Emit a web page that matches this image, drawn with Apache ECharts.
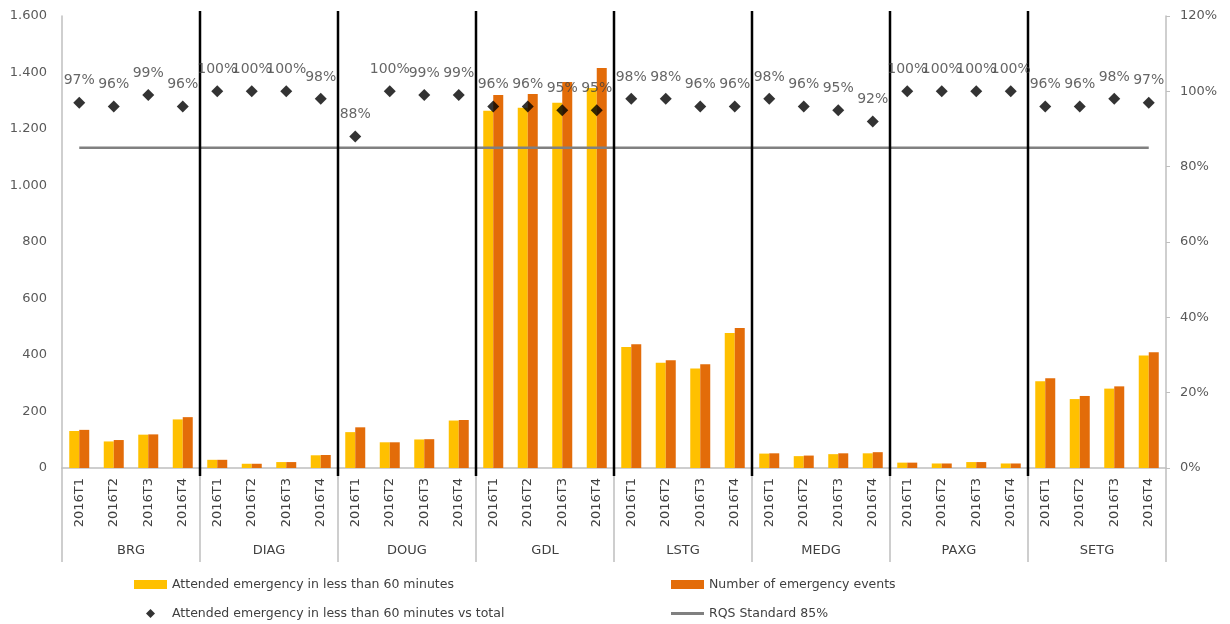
<!DOCTYPE html>
<html>
<head>
<meta charset="utf-8">
<title>Emergency attendance by region, 2016</title>
<script src="https://cdn.jsdelivr.net/npm/echarts@6/dist/echarts.min.js"></script>
<style>
  html, body { margin: 0; padding: 0; background: #ffffff; }
  #chart { width: 1230px; height: 624px; }
</style>
</head>
<body>
<div id="chart"></div>
<script>
// Regions and quarters on the two-level category axis
const regions = ['BRG', 'DIAG', 'DOUG', 'GDL', 'LSTG', 'MEDG', 'PAXG', 'SETG'];
const quarters = ['2016T1', '2016T2', '2016T3', '2016T4'];

// Emergencies attended in less than 60 minutes (region by region, T1..T4)
const attendedUnder60 = [
  131, 94, 118, 172,
  29, 15, 21, 45,
  127, 91, 101, 168,
  1265, 1275, 1293, 1345,
  428, 373, 352, 478,
  51, 42, 49, 52,
  19, 16, 21, 16,
  307, 244, 281, 398
];

// Total number of emergency events
const emergencyEvents = [
  135, 99, 119, 180,
  29, 15, 21, 46,
  144, 91, 102, 170,
  1320, 1324, 1366, 1416,
  438, 381, 367, 496,
  52, 44, 52, 56,
  19, 16, 21, 16,
  318, 255, 289, 410
];

// Share attended in less than 60 minutes
const attendedShare = [
  0.97, 0.96, 0.99, 0.96,
  1.00, 1.00, 1.00, 0.98,
  0.88, 1.00, 0.99, 0.99,
  0.96, 0.96, 0.95, 0.95,
  0.98, 0.98, 0.96, 0.96,
  0.98, 0.96, 0.95, 0.92,
  1.00, 1.00, 1.00, 1.00,
  0.96, 0.96, 0.98, 0.97
];

// RQS standard target
const rqsStandard = 0.85;

// Left axis ticks (events) and right axis ticks (share)
const countAxis = { min: 0, max: 1600, interval: 200 };
const shareAxis = { min: 0, max: 1.2, interval: 0.2 };

const seriesNames = {
  attended: 'Attended emergency in less than 60 minutes',
  events: 'Number of emergency events',
  share: 'Attended emergency in less than 60 minutes vs total',
  rqs: 'RQS Standard 85%'
};

// Build the flat category list "REGION|QUARTER"
const quarterKeys = [];
regions.forEach(r => quarters.forEach(q => quarterKeys.push(r + '|' + q)));

// Region boundaries (in category units) where the black dividers go
const dividerPositions = regions.slice(1).map((_, i) => (i + 1) * quarters.length);

const axisTextColor = '#595959';
const axisLineColor = '#bfbfbf';
const baseFont = 'DejaVu Sans';

// Legend icons: diamond marker and a thin line segment
const diamondIcon = 'path://M5,0L10,5L5,10L0,5Z';
const lineIcon = 'path://M0,0H33V3H0Z';

const legendBase = {
  top: 578, orient: 'vertical', padding: 0,
  itemWidth: 33, itemHeight: 9, itemGap: 16,
  symbolKeepAspect: true,
  textStyle: { fontFamily: baseFont, fontSize: 12.5, color: '#404040' }
};

const chart = echarts.init(document.getElementById('chart'), null, { renderer: 'canvas' });

const option = {
  backgroundColor: '#ffffff',
  animation: false,
  textStyle: { fontFamily: baseFont },
  grid: { left: 62, right: 64, top: 16, bottom: 156, containLabel: false },
  legend: [
    Object.assign({}, legendBase, {
      left: 134,
      data: [
        { name: seriesNames.attended, icon: 'rect' },
        { name: seriesNames.share, icon: diamondIcon }
      ]
    }),
    Object.assign({}, legendBase, {
      left: 671,
      data: [
        { name: seriesNames.events, icon: 'rect' },
        { name: seriesNames.rqs, icon: lineIcon }
      ]
    })
  ],
  xAxis: [
    {
      type: 'category',
      data: quarterKeys,
      position: 'bottom',
      axisLine: { show: true, lineStyle: { color: axisLineColor, width: 1.5 } },
      axisTick: { show: false },
      axisLabel: {
        interval: 0, rotate: 90, margin: 10,
        fontFamily: baseFont, fontSize: 13, color: '#404040',
        formatter: v => v.split('|')[1]
      },
      splitLine: { show: false }
    },
    {
      type: 'category',
      data: regions,
      position: 'bottom',
      offset: 0,
      axisLine: { show: false },
      axisTick: {
        show: true, interval: 0, length: 94, alignWithLabel: false,
        lineStyle: { color: axisLineColor, width: 1.5 }
      },
      axisLabel: {
        interval: 0, margin: 76,
        fontFamily: baseFont, fontSize: 13, color: '#404040'
      },
      splitLine: { show: false }
    },
    {
      type: 'value',
      min: 0, max: regions.length * quarters.length,
      show: false
    }
  ],
  yAxis: [
    {
      type: 'value',
      min: countAxis.min, max: countAxis.max, interval: countAxis.interval,
      axisLine: { show: true, lineStyle: { color: axisLineColor, width: 1.5 } },
      axisTick: { show: false },
      splitLine: { show: false },
      axisLabel: {
        margin: 15, fontFamily: baseFont, fontSize: 13, color: axisTextColor,
        formatter: v => v.toString().replace(/\B(?=(\d{3})+(?!\d))/g, '.')
      }
    },
    {
      type: 'value',
      position: 'right',
      min: shareAxis.min, max: shareAxis.max, interval: shareAxis.interval,
      axisLine: { show: true, lineStyle: { color: axisLineColor, width: 1.5 } },
      axisTick: { show: true, length: 4, lineStyle: { color: axisLineColor } },
      splitLine: { show: false },
      axisLabel: {
        margin: 14, fontFamily: baseFont, fontSize: 13, color: axisTextColor,
        formatter: v => Math.round(v * 100) + '%'
      }
    }
  ],
  series: [
    {
      name: seriesNames.attended,
      type: 'bar',
      xAxisIndex: 0, yAxisIndex: 0,
      data: attendedUnder60,
      barWidth: 10,
      barGap: '0%',
      itemStyle: { color: '#FFC000' },
      z: 2
    },
    {
      name: seriesNames.events,
      type: 'bar',
      xAxisIndex: 0, yAxisIndex: 0,
      data: emergencyEvents,
      barWidth: 10,
      barGap: '0%',
      itemStyle: { color: '#E36C09' },
      z: 2
    },
    {
      name: seriesNames.rqs,
      type: 'line',
      xAxisIndex: 0, yAxisIndex: 1,
      data: quarterKeys.map(() => rqsStandard),
      symbol: 'none',
      lineStyle: { color: '#808080', width: 2.5 },
      itemStyle: { color: '#808080' },
      z: 3
    },
    {
      name: 'dividers',
      type: 'custom',
      xAxisIndex: 2, yAxisIndex: 0,
      data: dividerPositions,
      silent: true,
      z: 4,
      renderItem: (params, api) => {
        const top = api.coord([api.value(0), countAxis.max]);
        const bottom = api.coord([api.value(0), countAxis.min]);
        return {
          type: 'line',
          shape: { x1: top[0], y1: top[1] - 5, x2: bottom[0], y2: bottom[1] + 8 },
          style: { stroke: '#000000', lineWidth: 2.5 }
        };
      }
    },
    {
      name: seriesNames.share,
      type: 'scatter',
      xAxisIndex: 0, yAxisIndex: 1,
      data: attendedShare,
      symbol: 'diamond',
      symbolSize: 12,
      itemStyle: { color: '#000000' },
      z: 5,
      label: {
        show: true, position: 'top', distance: 9,
        fontFamily: baseFont, fontSize: 14, color: '#404040',
        formatter: p => Math.round(p.value * 100) + '%'
      }
    }
  ]
};

chart.setOption(option);
</script>
</body>
</html>
